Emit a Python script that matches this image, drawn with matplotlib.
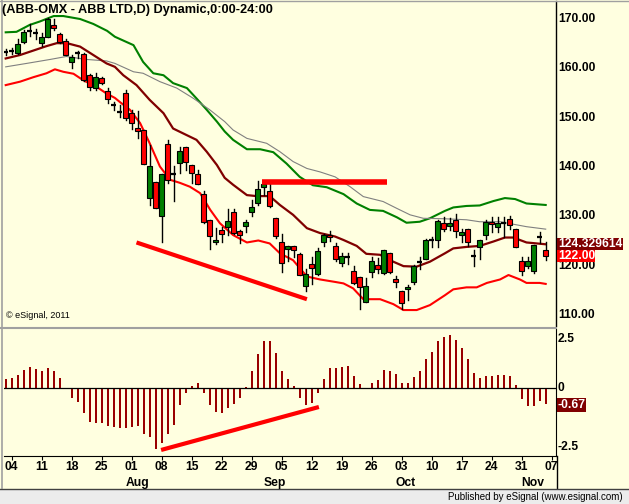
import matplotlib

matplotlib.use("Agg")
import matplotlib.pyplot as plt
from matplotlib.patches import Rectangle

W, H = 629, 504
BG = "#ffffe0"

title = "(ABB-OMX - ABB LTD,D) Dynamic,0:00-24:00"

# candles, bar index -1 = 01 Jul 2011, 0 = 04 Jul 2011 ... 89 = 04 Nov 2011
opens = [163.4, 163.5, 163.2, 165.4, 167.6, 167.1, 165.2, 166.3, 168.8, 167.0,
         165.5, 161.2, 163.2, 162.9, 158.6, 156.1, 158.0, 155.5, 152.5, 151.2,
         154.9, 150.9, 148.0, 147.5, 133.8, 137.0, 130.1, 144.6, 138.6, 140.9,
         144.0, 140.5, 138.5, 134.5, 129.2, 124.8, 127.2, 127.9, 130.8, 127.0,
         128.1, 130.8, 132.8, 135.9, 135.2, 129.6, 124.8, 123.3, 124.0, 122.3,
         115.8, 120.4, 118.3, 124.7, 126.3, 124.0, 120.6, 121.7, 118.9, 117.6,
         112.7, 118.7, 120.2, 118.6, 122.5, 117.2, 114.8, 115.2, 116.7, 120.8,
         121.3, 125.3, 125.3, 128.6, 128.1, 129.2, 126.3, 127.5, 122.0, 123.8,
         126.3, 128.9, 127.8, 128.7, 129.4, 127.5, 121.0, 120.0, 119.0, 125.8,
         123.1]
highs = [163.9, 164.1, 165.9, 167.8, 169.0, 167.9, 167.1, 170.3, 170.1, 167.1,
         165.9, 162.7, 163.6, 163.2, 158.8, 159.0, 158.2, 156.1, 153.2, 152.6,
         155.6, 151.5, 151.3, 147.5, 144.4, 137.0, 138.5, 145.5, 140.2, 144.0,
         144.0, 140.5, 139.4, 135.1, 129.2, 127.7, 127.9, 131.4, 131.4, 127.3,
         129.2, 133.3, 137.1, 137.1, 136.5, 129.6, 126.5, 124.0, 124.0, 122.6,
         119.4, 121.8, 123.5, 126.5, 127.0, 124.5, 122.5, 122.6, 119.9, 117.6,
         117.4, 121.7, 121.5, 123.1, 122.5, 117.9, 114.8, 116.0, 120.1, 121.8,
         125.4, 125.8, 129.2, 129.8, 129.6, 130.4, 127.5, 127.5, 123.1, 125.2,
         129.2, 129.8, 129.9, 129.9, 130.0, 127.5, 121.7, 121.8, 124.2, 126.9,
         124.8]
lows = [162.7, 162.9, 163.0, 165.1, 166.6, 165.9, 164.6, 166.3, 167.8, 165.1,
        162.7, 160.0, 162.0, 157.4, 155.7, 155.7, 156.8, 152.9, 151.5, 150.2,
        149.5, 147.7, 145.9, 140.6, 132.3, 131.6, 124.8, 136.8, 133.2, 138.7,
        139.4, 136.8, 136.5, 128.6, 123.3, 124.3, 124.8, 126.2, 126.5, 124.6,
        126.9, 130.0, 132.3, 134.3, 131.9, 125.7, 118.7, 121.0, 121.7, 118.1,
        114.9, 116.2, 118.1, 124.0, 125.0, 121.0, 120.0, 120.3, 116.2, 111.3,
        112.7, 117.7, 118.5, 118.4, 118.6, 115.7, 111.3, 113.0, 116.2, 119.4,
        121.3, 123.8, 123.8, 127.1, 127.2, 125.8, 124.8, 124.0, 119.9, 121.3,
        125.4, 126.8, 126.8, 125.8, 127.5, 123.8, 118.1, 119.6, 118.6, 124.5,
        121.1]
closes = [163.4, 163.5, 164.9, 167.3, 167.6, 167.1, 166.3, 170.1, 168.1, 165.4,
          162.8, 162.2, 163.2, 157.6, 156.3, 158.2, 157.0, 153.8, 152.5, 151.2,
          149.9, 149.0, 147.3, 140.7, 140.2, 131.6, 138.5, 137.3, 138.6, 143.2,
          141.1, 138.7, 136.5, 128.9, 126.0, 125.3, 126.5, 129.0, 126.7, 126.3,
          128.8, 131.8, 135.5, 136.5, 132.1, 126.0, 120.6, 124.0, 123.2, 118.2,
          118.3, 119.6, 122.9, 126.2, 125.8, 121.3, 121.9, 121.7, 116.4, 115.6,
          115.8, 121.0, 119.4, 123.1, 118.7, 116.6, 112.5, 115.7, 119.9, 120.8,
          125.2, 125.3, 129.0, 127.5, 128.7, 127.1, 126.9, 124.7, 122.0, 125.2,
          128.8, 128.4, 128.6, 128.7, 128.2, 123.8, 119.0, 120.9, 124.2, 125.8,
          122.0]

# study lines (bar index, price)
upper_x = [-1, 0.8, 3, 4.7, 7, 8.6, 11.4, 13.6, 15.9, 17.2, 20.3, 21.9, 23.6, 25.3,
           26.9, 29.2, 30.8, 32.5, 34.2, 35.5, 36.9, 39.2, 41.4, 43.6, 45.8, 48,
           50.2, 52.5, 53.9, 55.3, 57.5, 59.7, 61.9, 64.2, 65.8, 68, 69.7, 72.2,
           73.6, 75.8, 78, 80.3, 82.2, 83.9, 85.8, 89]
upper_y = [167.3, 167.4, 168.8, 169.5, 170.6, 170.6, 170.0, 169.0, 167.6, 166.4,
           164.7, 161.3, 159.0, 158.6, 157.0, 156.0, 153.9, 151.6, 149.2, 147.2,
           145.5, 143.6, 143.6, 143.0, 140.7, 138.0, 136.3, 135.9, 135.2, 134.5,
           132.6, 131.3, 131.1, 129.8, 128.7, 128.9, 129.6, 131.1, 131.8, 132.1,
           132.2, 133.1, 133.7, 133.5, 132.6, 132.3]
mid_x = [-1, 1.4, 3.6, 5.8, 7.5, 9.2, 11.4, 13.6, 15.8, 17.2, 18.6, 20.8, 23, 25.3,
         26.9, 29.1, 30.8, 32.5, 34.2, 35.5, 36.9, 39.2, 40.8, 43, 44.7, 46.9, 49.2,
         51.4, 53.9, 55.3, 57.5, 59.1, 61.4, 63.6, 65.3, 67.5, 69.7, 72.2, 73.6,
         75.8, 78, 80.3, 82.2, 83.6, 85.8, 89]
mid_y = [162.0, 162.7, 163.6, 164.5, 165.1, 165.1, 164.4, 162.7, 161.0, 160.3,
         158.6, 156.6, 153.6, 150.9, 147.8, 146.5, 145.5, 143.1, 140.4, 137.8,
         136.4, 134.3, 134.1, 134.1, 132.3, 130.3, 127.6, 126.6, 125.9, 125.2,
         124.0, 122.4, 122.2, 120.8, 119.9, 119.8, 120.8, 122.5, 123.5, 123.8,
         124.0, 124.9, 125.7, 125.7, 124.7, 124.33]
gray_x = [-1, 2.5, 6.4, 9.1, 12.5, 15.8, 17.2, 20.3, 21.9, 24.7, 27.5, 30.3, 33,
          35.5, 36.9, 39.2, 42.5, 44.7, 46.9, 49.2, 51.4, 53.9, 56.4, 58.6, 61.9,
          64.2, 66.4, 68.6, 72.2, 75.8, 78, 81.4, 83.6, 85.8, 89]
gray_y = [160.3, 161.0, 161.8, 162.4, 161.8, 161.5, 161.0, 159.3, 159.0, 157.3,
          156.0, 153.9, 151.6, 149.2, 147.5, 145.8, 144.8, 143.1, 141.1, 139.7,
          139.0, 138.0, 136.0, 134.0, 133.0, 131.6, 130.3, 129.6, 129.5, 129.3,
          128.9, 128.9, 128.4, 127.9, 127.4]
lower_x = [-1, 1.4, 3.6, 5.8, 7.2, 8.6, 10.3, 11.9, 14.2, 15.8, 17.2, 18, 19.7,
           21.4, 23, 24.7, 26.4, 28, 29.7, 31.4, 33.1, 34.7, 36.9, 39.2, 41.1, 43,
           44.7, 46.9, 49.2, 51.4, 53.9, 55.3, 56.9, 58.6, 61.4, 63.6, 65.3, 67.5,
           69.7, 72.2, 73.6, 75.8, 77.5, 79.2, 81.4, 82.8, 84.7, 85.8, 88, 89]
lower_y = [156.6, 157.3, 158.2, 159.0, 159.8, 159.3, 158.9, 157.6, 156.2, 154.9,
           154.0, 153.2, 151.6, 148.9, 144.8, 140.1, 137.4, 136.8, 136.0, 134.7,
           131.3, 128.6, 126.2, 124.7, 125.1, 124.5, 122.5, 121.1, 117.8, 117.2,
           116.7, 116.4, 115.4, 113.2, 113.2, 112.2, 111.0, 111.0, 112.0, 114.0,
           115.2, 115.6, 115.6, 116.5, 117.2, 118.1, 117.2, 116.5, 116.5, 116.3]

# oscillator histogram, same bar index
osc = [0.40, 0.46, 0.58, 0.78, 0.91, 0.83, 0.74, 0.87, 0.74, 0.44,
       0.01, -0.40, -0.57, -1.04, -1.43, -1.48, -1.50, -1.60, -1.66, -1.68,
       -1.68, -1.64, -1.61, -1.94, -2.07, -2.61, -2.33, -1.97, -1.56, -0.73,
       -0.19, 0.10, 0.24, -0.19, -0.70, -1.00, -1.04, -0.83, -0.66, -0.40,
       0.04, 0.74, 1.47, 2.03, 2.03, 1.51, 0.74, 0.40, 0.11, -0.40,
       -0.70, -0.64, -0.21, 0.39, 0.86, 0.86, 0.91, 0.96, 0.53, 0.19,
       0.01, 0.24, 0.36, 0.78, 0.74, 0.63, 0.24, 0.24, 0.50, 0.76,
       1.26, 1.56, 2.03, 2.21, 2.28, 2.07, 1.73, 1.26, 0.67, 0.44,
       0.53, 0.54, 0.58, 0.58, 0.53, 0.14, -0.46, -0.76, -0.76, -0.54,
       -0.67]

# hand-drawn trend lines: (bar index, value)
trend_price_x = [20.8, 49.2]
trend_price_y = [124.7, 113.2]
level_x = [41.7, 62.5]
level_y = [136.9, 136.9]
trend_osc_x = [24.9, 51.2]
trend_osc_y = [-2.64, -0.80]

day_ticks = [0, 5, 10, 15, 20, 25, 30, 35, 40, 45, 50, 55, 60, 65, 70, 75, 80, 85, 90]
day_labels = ["04", "11", "18", "25", "01", "08", "15", "22", "29", "05", "12",
              "19", "26", "03", "10", "17", "24", "31", "07"]
month_pos = [20.9, 43.9, 65.7, 86.9]
month_labels = ["Aug", "Sep", "Oct", "Nov"]
price_ticks = [110, 120, 130, 140, 150, 160, 170]
osc_ticks = [-2.5, 0, 2.5]
osc_tick_labels = ["-2.5", "0", "2.5"]
mid_last_label = "124.329614"


def fx(x):
    return x / W


def fy(y):
    return 1 - y / H


def price_at(ypx):
    return 170 - (ypx - 19) / 4.933


def osc_at(ypx):
    return (388.3 - ypx) / 23.36


def idx_at(xpx):
    return (xpx - 11.7) / 6.0


plt.rcParams["font.family"] = ["Liberation Sans", "DejaVu Sans"]

fig = plt.figure(figsize=(W / 100, H / 100), dpi=100, facecolor=BG)

# price panel: x 4..556, y 1..326 px
ax = fig.add_axes([fx(4), fy(326), fx(552), (326 - 1) / H])
ax.set_facecolor(BG)
ax.set_xlim(idx_at(4), idx_at(556))
ax.set_ylim(price_at(326), price_at(1))

ax.plot(upper_x, upper_y, color="#008000", lw=1.5, zorder=2)
ax.plot(gray_x, gray_y, color="#808080", lw=0.8, zorder=2)
ax.plot(mid_x, mid_y, color="#800000", lw=1.6, zorder=2)
ax.plot(lower_x, lower_y, color="#ff0000", lw=1.5, zorder=2)

for i in range(len(opens)):
    x = i - 1
    o, h, l, c = opens[i], highs[i], lows[i], closes[i]
    ax.plot([x, x], [l, h], color="black", lw=1.0, zorder=3)
    if o == c:
        ax.plot([x - 0.38, x + 0.38], [o, o], color="black", lw=1.6, zorder=4,
                solid_capstyle="butt")
    else:
        col = "#008000" if c > o else "#ff0000"
        ax.add_patch(Rectangle((x - 0.38, min(o, c)), 0.76, abs(c - o),
                               facecolor=col, edgecolor="black", lw=0.8, zorder=4))

ax.plot(trend_price_x, trend_price_y, color="#ff0000", lw=3.0, zorder=5,
        solid_capstyle="butt")
ax.plot(level_x, level_y, color="#ff0000", lw=4.0, zorder=5, solid_capstyle="butt")

ax.set_xticks([])
ax.set_yticks([])
for side in ["top", "left", "bottom"]:
    ax.spines[side].set_visible(False)
ax.spines["right"].set_color("black")
ax.spines["right"].set_linewidth(1.0)

ax.text(0.004, 0.02, "\u00a9 eSignal, 2011", transform=ax.transAxes, fontsize=6.5,
        ha="left", va="bottom", color="black")

# oscillator panel: y 329..456 px
ax2 = fig.add_axes([fx(4), fy(456), fx(552), (456 - 329) / H])
ax2.set_facecolor(BG)
ax2.set_xlim(idx_at(4), idx_at(556))
ax2.set_ylim(osc_at(456), osc_at(329))
ax2.bar([i - 1 for i in range(len(osc))], osc, width=0.35, color="#990000", zorder=2)
ax2.axhline(0, color="black", lw=0.9, zorder=3)
ax2.plot(trend_osc_x, trend_osc_y, color="#ff0000", lw=3.0, zorder=5,
         solid_capstyle="butt")
ax2.set_yticks([])
ax2.set_xticks(day_ticks)
ax2.tick_params(axis="x", length=3, width=0.8, color="black", labelbottom=False)
for side in ["top", "left"]:
    ax2.spines[side].set_visible(False)
ax2.spines["right"].set_color("black")
ax2.spines["bottom"].set_color("black")

# panel separator and outer frame
fig.add_artist(plt.Line2D([fx(0), fx(556)], [fy(327.5), fy(327.5)],
                          color="#a0a0a0", lw=1.5))
fig.add_artist(plt.Line2D([fx(1.5), fx(1.5)], [fy(0), fy(488)], color="#a0a0a0", lw=1.2))
fig.add_artist(plt.Line2D([fx(0), fx(629)], [fy(0.5), fy(0.5)], color="#a0a0a0", lw=1.0))
fig.add_artist(plt.Line2D([fx(556.5), fx(556.5)], [fy(456), fy(488)], color="black", lw=1.0))

# bottom status strip
fig.add_artist(Rectangle((0, 0), 1, (504 - 489) / H, transform=fig.transFigure,
                         facecolor="#ececec", edgecolor="none"))
fig.add_artist(plt.Line2D([0, 1], [fy(489), fy(489)], color="#404040", lw=1.0))
fig.text(fx(623), fy(497), "Published by eSignal (www.esignal.com)", fontsize=7,
         ha="right", va="center", color="black")

fig.text(fx(2.5), fy(10), title, fontsize=9.2, fontweight="bold", ha="left",
         va="center", color="black")

# right axis labels
for p in price_ticks:
    ypx = 19 + (170 - p) * 4.933
    fig.text(fx(558), fy(ypx), f"{p:.2f}", fontsize=8.7, fontweight="bold",
             ha="left", va="center", color="black")
for v, lab in zip(osc_ticks, osc_tick_labels):
    ypx = 388.3 - v * 23.36
    if v > 2:
        ypx = 339
    fig.text(fx(558), fy(ypx), lab, fontsize=8.7, fontweight="bold",
             ha="left", va="center", color="black")

# date labels
for t, lab in zip(day_ticks, day_labels):
    xpx = 11.7 + 6 * t
    fig.text(fx(xpx), fy(467), lab, fontsize=8.7, fontweight="bold",
             ha="center", va="center", color="black")
for m, lab in zip(month_pos, month_labels):
    xpx = 11.7 + 6 * m
    fig.text(fx(xpx), fy(483), lab, fontsize=8.7, fontweight="bold",
             ha="center", va="center", color="black")


def value_box(x0, x1, y0, y1, color, text):
    fig.add_artist(Rectangle((fx(x0), fy(y1)), fx(x1 - x0), (y1 - y0) / H,
                             transform=fig.transFigure, facecolor=color,
                             edgecolor="none", zorder=10))
    fig.text(fx(x0 + 1), fy((y0 + y1) / 2), text, fontsize=8.7, fontweight="bold",
             ha="left", va="center", color="white", zorder=11)


value_box(557, 623, 238, 249.5, "#800000", mid_last_label)
value_box(557, 594.5, 250, 262, "#ff0000", f"{closes[-1]:.2f}")
value_box(557, 586, 398, 411.5, "#800000", f"{osc[-1]:.2f}")

fig.savefig("out.png", dpi=100, facecolor=BG)
